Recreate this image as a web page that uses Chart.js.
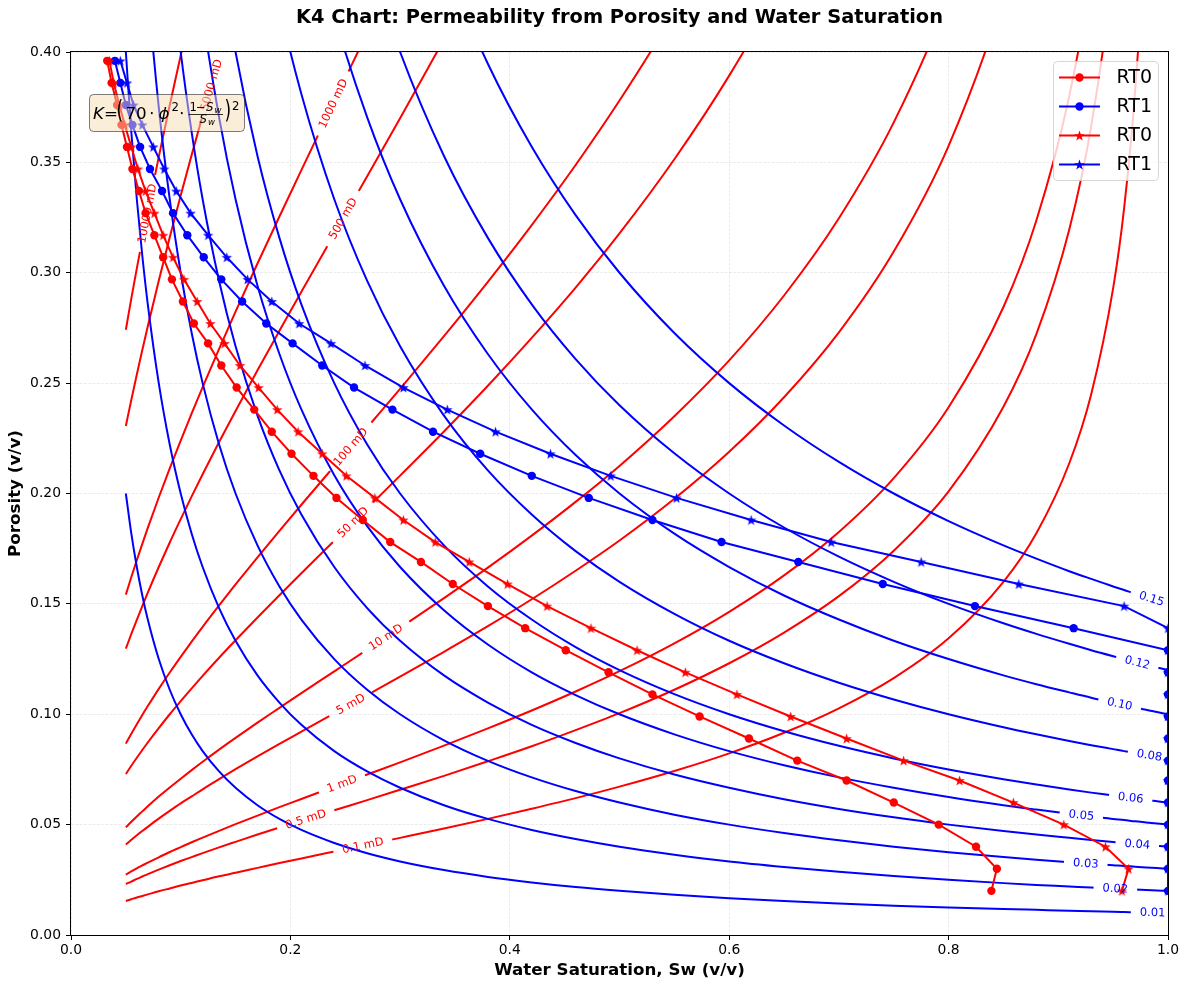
<!DOCTYPE html>
<html>
<head>
<meta charset="utf-8">
<script src="https://cdn.jsdelivr.net/npm/chart.js@4.4.1/dist/chart.umd.min.js"></script>
<style>
  html, body { margin: 0; padding: 0; background: #fff; }
  canvas { display: block; }
</style>
</head>
<body>
<canvas id="k4" width="1189" height="989"></canvas>
<script>
// K4-chart: porositeit tegen waterverzadiging, met BVW-lijnen (blauw)
// en permeabiliteitslijnen (rood), plus vier gemeten reeksen.

const _ = null;

// gemeten punten: porositeit per rij, Sw per reeks
const PHI_PTS = [0.020, 0.030, 0.040, 0.050, 0.060, 0.070, 0.079, 0.089, 0.099, 0.109,
                 0.119, 0.129, 0.139, 0.149, 0.159, 0.169, 0.178, 0.188, 0.198, 0.208,
                 0.218, 0.228, 0.238, 0.248, 0.258, 0.268, 0.277, 0.287, 0.297, 0.307,
                 0.317, 0.327, 0.337, 0.347, 0.357, 0.367, 0.376, 0.386, 0.396];
const SW_RT0_CIRCLE = [0.839, 0.844, 0.825, 0.791, 0.750, 0.707, 0.662, 0.618, 0.573, 0.530,
                       0.490, 0.451, 0.414, 0.380, 0.348, 0.319, 0.291, 0.266, 0.242, 0.221,
                       0.201, 0.183, 0.167, 0.151, 0.137, 0.125, 0.112, 0.102, 0.092, 0.084,
                       0.076, 0.068, 0.062, 0.056, 0.051, 0.046, 0.042, 0.037, 0.033];
const SW_RT1_CIRCLE = [1.000, 1.000, 1.000, 1.000, 1.000, 1.000, 1.000, 1.000, 1.000, 1.000,
                       1.000, 1.000, 0.914, 0.824, 0.740, 0.663, 0.593, 0.530, 0.472, 0.420,
                       0.373, 0.330, 0.293, 0.258, 0.229, 0.202, 0.178, 0.156, 0.137, 0.121,
                       0.106, 0.093, 0.083, 0.072, 0.063, 0.056, 0.050, 0.045, 0.040];
const SW_RT0_STAR = [0.958, 0.964, 0.943, 0.905, 0.859, 0.810, 0.759, 0.707, 0.656, 0.607,
                     0.560, 0.516, 0.474, 0.434, 0.398, 0.363, 0.332, 0.303, 0.277, 0.251,
                     0.229, 0.207, 0.188, 0.171, 0.154, 0.140, 0.127, 0.115, 0.103, 0.093,
                     0.084, 0.076, 0.068, 0.061, 0.055, 0.049, 0.044, 0.039, 0.035];
const SW_RT1_STAR = [1.000, 1.000, 1.000, 1.000, 1.000, 1.000, 1.000, 1.000, 1.000, 1.000,
                     1.000, 1.000, 1.000, 0.960, 0.864, 0.775, 0.693, 0.620, 0.552, 0.492,
                     0.437, 0.387, 0.343, 0.303, 0.268, 0.237, 0.208, 0.183, 0.161, 0.142,
                     0.125, 0.109, 0.096, 0.085, 0.075, 0.065, 0.057, 0.051, 0.045];

// contourlijnen: porositeit op een vaste Sw-reeks
const SW_GRID = [0.05, 0.055, 0.06, 0.065, 0.07, 0.08, 0.09, 0.10, 0.11, 0.12,
                 0.135, 0.15, 0.17, 0.19, 0.21, 0.24, 0.27, 0.30, 0.34, 0.38,
                 0.42, 0.46, 0.50, 0.55, 0.60, 0.65, 0.70, 0.75, 0.80, 0.85,
                 0.88, 0.91, 0.93, 0.95, 0.96, 0.97, 0.98, 0.99, 1.00];

const BVW_01 = [0.2000, 0.1818, 0.1667, 0.1538, 0.1429, 0.1250, 0.1111, 0.1000, 0.0909, 0.0833,
                0.0741, 0.0667, 0.0588, 0.0526, 0.0476, 0.0417, 0.0370, 0.0333, 0.0294, 0.0263,
                0.0238, 0.0217, 0.0200, 0.0182, 0.0167, 0.0154, 0.0143, 0.0133, 0.0125, 0.0118,
                0.0114, 0.0110, 0.0108, 0.0105, 0.0104, 0.0103, 0.0102, 0.0101, 0.0100];
const BVW_02 = [0.4000, 0.3636, 0.3333, 0.3077, 0.2857, 0.2500, 0.2222, 0.2000, 0.1818, 0.1667,
                0.1481, 0.1333, 0.1176, 0.1053, 0.0952, 0.0833, 0.0741, 0.0667, 0.0588, 0.0526,
                0.0476, 0.0435, 0.0400, 0.0364, 0.0333, 0.0308, 0.0286, 0.0267, 0.0250, 0.0235,
                0.0227, 0.0220, 0.0215, 0.0211, 0.0208, 0.0206, 0.0204, 0.0202, 0.0200];
const BVW_03 = [_, _, 0.5000, 0.4615, 0.4286, 0.3750, 0.3333, 0.3000, 0.2727, 0.2500,
                0.2222, 0.2000, 0.1765, 0.1579, 0.1429, 0.1250, 0.1111, 0.1000, 0.0882, 0.0789,
                0.0714, 0.0652, 0.0600, 0.0545, 0.0500, 0.0462, 0.0429, 0.0400, 0.0375, 0.0353,
                0.0341, 0.0330, 0.0323, 0.0316, 0.0313, 0.0309, 0.0306, 0.0303, 0.0300];
const BVW_04 = [_, _, _, _, 0.5714, 0.5000, 0.4444, 0.4000, 0.3636, 0.3333,
                0.2963, 0.2667, 0.2353, 0.2105, 0.1905, 0.1667, 0.1481, 0.1333, 0.1176, 0.1053,
                0.0952, 0.0870, 0.0800, 0.0727, 0.0667, 0.0615, 0.0571, 0.0533, 0.0500, 0.0471,
                0.0455, 0.0440, 0.0430, 0.0421, 0.0417, 0.0412, 0.0408, 0.0404, 0.0400];
const BVW_05 = [_, _, _, _, _, _, _, 0.5000, 0.4545, 0.4167,
                0.3704, 0.3333, 0.2941, 0.2632, 0.2381, 0.2083, 0.1852, 0.1667, 0.1471, 0.1316,
                0.1190, 0.1087, 0.1000, 0.0909, 0.0833, 0.0769, 0.0714, 0.0667, 0.0625, 0.0588,
                0.0568, 0.0549, 0.0538, 0.0526, 0.0521, 0.0515, 0.0510, 0.0505, 0.0500];
const BVW_06 = [_, _, _, _, _, _, _, _, 0.5455, 0.5000,
                0.4444, 0.4000, 0.3529, 0.3158, 0.2857, 0.2500, 0.2222, 0.2000, 0.1765, 0.1579,
                0.1429, 0.1304, 0.1200, 0.1091, 0.1000, 0.0923, 0.0857, 0.0800, 0.0750, 0.0706,
                0.0682, 0.0659, 0.0645, 0.0632, 0.0625, 0.0619, 0.0612, 0.0606, 0.0600];
const BVW_08 = [_, _, _, _, _, _, _, _, _, _,
                _, 0.5333, 0.4706, 0.4211, 0.3810, 0.3333, 0.2963, 0.2667, 0.2353, 0.2105,
                0.1905, 0.1739, 0.1600, 0.1455, 0.1333, 0.1231, 0.1143, 0.1067, 0.1000, 0.0941,
                0.0909, 0.0879, 0.0860, 0.0842, 0.0833, 0.0825, 0.0816, 0.0808, 0.0800];
const BVW_10 = [_, _, _, _, _, _, _, _, _, _,
                _, _, _, 0.5263, 0.4762, 0.4167, 0.3704, 0.3333, 0.2941, 0.2632,
                0.2381, 0.2174, 0.2000, 0.1818, 0.1667, 0.1538, 0.1429, 0.1333, 0.1250, 0.1176,
                0.1136, 0.1099, 0.1075, 0.1053, 0.1042, 0.1031, 0.1020, 0.1010, 0.1000];
const BVW_12 = [_, _, _, _, _, _, _, _, _, _,
                _, _, _, _, 0.5714, 0.5000, 0.4444, 0.4000, 0.3529, 0.3158,
                0.2857, 0.2609, 0.2400, 0.2182, 0.2000, 0.1846, 0.1714, 0.1600, 0.1500, 0.1412,
                0.1364, 0.1319, 0.1290, 0.1263, 0.1250, 0.1237, 0.1224, 0.1212, 0.1200];
const BVW_15 = [_, _, _, _, _, _, _, _, _, _,
                _, _, _, _, _, _, 0.5556, 0.5000, 0.4412, 0.3947,
                0.3571, 0.3261, 0.3000, 0.2727, 0.2500, 0.2308, 0.2143, 0.2000, 0.1875, 0.1765,
                0.1705, 0.1648, 0.1613, 0.1579, 0.1563, 0.1546, 0.1531, 0.1515, 0.1500];

const K_0_1 = [0.0154, 0.0162, 0.0170, 0.0177, 0.0184, 0.0198, 0.0211, 0.0224, 0.0236, 0.0248,
               0.0266, 0.0282, 0.0304, 0.0326, 0.0347, 0.0378, 0.0409, 0.0440, 0.0482, 0.0526,
               0.0572, 0.0620, 0.0672, 0.0743, 0.0823, 0.0916, 0.1027, 0.1164, 0.1344, 0.1600,
               0.1820, 0.2137, 0.2450, 0.2930, 0.3293, 0.3822, 0.4705, 0.6688];
const K_0_5 = [0.0231, 0.0242, 0.0254, 0.0265, 0.0276, 0.0296, 0.0316, 0.0335, 0.0353, 0.0371,
               0.0397, 0.0422, 0.0455, 0.0487, 0.0518, 0.0565, 0.0611, 0.0658, 0.0721, 0.0787,
               0.0855, 0.0928, 0.1005, 0.1111, 0.1231, 0.1370, 0.1535, 0.1741, 0.2010, 0.2393,
               0.2722, 0.3196, 0.3664, 0.4381, 0.4924];
const K_1 = [0.0274, 0.0288, 0.0302, 0.0315, 0.0328, 0.0352, 0.0376, 0.0398, 0.0420, 0.0441,
             0.0472, 0.0502, 0.0541, 0.0579, 0.0616, 0.0672, 0.0727, 0.0782, 0.0858, 0.0936,
             0.1017, 0.1103, 0.1195, 0.1321, 0.1464, 0.1629, 0.1826, 0.2070, 0.2391, 0.2845,
             0.3237, 0.3801, 0.4357, 0.5210];
const K_5 = [0.0410, 0.0431, 0.0452, 0.0471, 0.0490, 0.0527, 0.0562, 0.0596, 0.0628, 0.0660,
             0.0706, 0.0751, 0.0809, 0.0866, 0.0921, 0.1004, 0.1087, 0.1170, 0.1283, 0.1399,
             0.1521, 0.1650, 0.1787, 0.1976, 0.2189, 0.2436, 0.2730, 0.3096, 0.3575, 0.4255,
             0.4840];
const K_10 = [0.0488, 0.0513, 0.0537, 0.0560, 0.0583, 0.0627, 0.0668, 0.0708, 0.0747, 0.0785,
              0.0840, 0.0893, 0.0962, 0.1029, 0.1096, 0.1194, 0.1293, 0.1391, 0.1526, 0.1664,
              0.1809, 0.1962, 0.2125, 0.2350, 0.2603, 0.2897, 0.3247, 0.3681, 0.4251, 0.5060];
const K_50 = [0.0729, 0.0767, 0.0803, 0.0838, 0.0872, 0.0937, 0.1000, 0.1059, 0.1117, 0.1174,
              0.1256, 0.1335, 0.1438, 0.1539, 0.1639, 0.1786, 0.1933, 0.2081, 0.2281, 0.2488,
              0.2705, 0.2933, 0.3178, 0.3514, 0.3893, 0.4331, 0.4855];
const K_100 = [0.0867, 0.0912, 0.0955, 0.0997, 0.1037, 0.1115, 0.1189, 0.1260, 0.1329, 0.1396,
               0.1493, 0.1588, 0.1711, 0.1831, 0.1949, 0.2124, 0.2299, 0.2474, 0.2713, 0.2959,
               0.3216, 0.3488, 0.3780, 0.4179, 0.4629];
const K_500 = [0.1297, 0.1364, 0.1428, 0.1490, 0.1551, 0.1667, 0.1778, 0.1884, 0.1987, 0.2087,
               0.2233, 0.2374, 0.2558, 0.2737, 0.2914, 0.3176, 0.3437, 0.3700, 0.4057, 0.4425];
const K_1000 = [0.1542, 0.1622, 0.1698, 0.1772, 0.1844, 0.1982, 0.2114, 0.2240, 0.2363, 0.2482,
                0.2655, 0.2824, 0.3042, 0.3255, 0.3465, 0.3777, 0.4088, 0.4400];
const K_5000 = [0.2306, 0.2425, 0.2539, 0.2650, 0.2758, 0.2964, 0.3161, 0.3350, 0.3534, 0.3712,
                0.3971, 0.4222, 0.4549];
const K_10000 = [0.2742, 0.2884, 0.3020, 0.3151, 0.3279, 0.3525, 0.3759, 0.3984, 0.4202, 0.4414];

const BVW_LEVELS = ['0.01', '0.02', '0.03', '0.04', '0.05', '0.06', '0.08', '0.10', '0.12', '0.15'];
const BVW_CURVES = [BVW_01, BVW_02, BVW_03, BVW_04, BVW_05, BVW_06, BVW_08, BVW_10, BVW_12, BVW_15];
const K_LEVELS = ['0.1 mD', '0.5 mD', '1 mD', '5 mD', '10 mD', '50 mD', '100 mD', '500 mD',
                  '1000 mD', '5000 mD', '10000 mD'];
const K_CURVES = [K_0_1, K_0_5, K_1, K_5, K_10, K_50, K_100, K_500, K_1000, K_5000, K_10000];

const X_TICKS = [0.0, 0.2, 0.4, 0.6, 0.8, 1.0];
const Y_TICKS = [0.00, 0.05, 0.10, 0.15, 0.20, 0.25, 0.30, 0.35, 0.40];

// waar langs de lijn het label staat (Sw)
const BVW_LABEL_AT = [0.986, 0.952, 0.925, 0.972, 0.921, 0.966, 0.983, 0.956, 0.972, 0.985];
const K_LABEL_AT = [0.266, 0.214, 0.247, 0.255, 0.287, 0.257, 0.255, 0.248, 0.239, 0.128, 0.0696];

const FONT = 'DejaVu Sans';
const RED = '#ff0000';
const BLUE = '#0000ff';
const LABEL_FONT = `11.5px ${FONT}`;

Chart.defaults.font.family = FONT;
Chart.defaults.color = '#000';

function starImage(color, r) {
    const c = document.createElement('canvas');
    const size = Math.ceil(r * 2) + 2;
    c.width = size; c.height = size;
    const g = c.getContext('2d');
    g.translate(size / 2, size / 2 + 0.5);
    g.beginPath();
    for (let i = 0; i < 10; i++) {
        const rr = i % 2 ? r * 0.4 : r;
        const a = -Math.PI / 2 + i * Math.PI / 5;
        g.lineTo(rr * Math.cos(a), rr * Math.sin(a));
    }
    g.closePath();
    g.fillStyle = color;
    g.fill();
    return c;
}

const STAR_RED = starImage(RED, 5.5);
const STAR_BLUE = starImage(BLUE, 5.5);

function series(label, swArr, color, style) {
    return {
        label,
        data: PHI_PTS.map((p, i) => ({ x: swArr[i], y: p })),
        borderColor: color,
        backgroundColor: color,
        borderWidth: 2,
        pointStyle: style,
        pointRadius: 4.2,
        pointBorderWidth: 0,
        pointBackgroundColor: color,
        pointHoverRadius: 4.2,
        tension: 0,
        clip: 0
    };
}

function contour(arr, color, text, at) {
    return {
        label: text,
        data: SW_GRID.map((s, i) => ({ x: s, y: arr[i] === undefined ? null : arr[i] })),
        borderColor: color,
        borderWidth: 2,
        pointRadius: 0,
        pointHoverRadius: 0,
        cubicInterpolationMode: 'monotone',
        spanGaps: false,
        clip: 0,
        labelText: text,
        labelAt: at,
        labelColor: color
    };
}

const LEGEND_ROWS = [
    { text: 'RT0', color: RED, style: 'circle' },
    { text: 'RT1', color: BLUE, style: 'circle' },
    { text: 'RT0', color: RED, style: STAR_RED },
    { text: 'RT1', color: BLUE, style: STAR_BLUE }
];

// bovenste getekend = eerste in de lijst
const datasets = [
    series('RT1', SW_RT1_STAR, BLUE, STAR_BLUE),
    series('RT0', SW_RT0_STAR, RED, STAR_RED),
    series('RT1', SW_RT1_CIRCLE, BLUE, 'circle'),
    series('RT0', SW_RT0_CIRCLE, RED, 'circle')
];
BVW_CURVES.forEach((arr, i) => datasets.push(contour(arr, BLUE, BVW_LEVELS[i], BVW_LABEL_AT[i])));
K_CURVES.forEach((arr, i) => datasets.push(contour(arr, RED, K_LEVELS[i], K_LABEL_AT[i])));

function labelGeom(chart, index) {
    const ds = chart.data.datasets[index];
    if (ds.labelText === undefined) return null;
    const meta = chart.getDatasetMeta(index);
    const ax = chart.scales.x.getPixelForValue(ds.labelAt);
    const pts = meta.data.filter(p => !p.skip && isFinite(p.y));
    for (let j = 0; j < pts.length - 1; j++) {
        const a = pts[j], b = pts[j + 1];
        if (ax >= a.x && ax <= b.x) {
            const t = (ax - a.x) / (b.x - a.x);
            const ctx = chart.ctx;
            ctx.save();
            ctx.font = LABEL_FONT;
            const w = ctx.measureText(ds.labelText).width;
            ctx.restore();
            return { x: ax, y: a.y + t * (b.y - a.y), ang: Math.atan2(b.y - a.y, b.x - a.x), w, ds };
        }
    }
    return null;
}

// inline contourlabels: lijn onderbreken en tekst langs de lijn zetten
const contourLabels = {
    id: 'contourLabels',
    beforeDatasetDraw(chart, args) {
        const g = labelGeom(chart, args.index);
        if (!g) return;
        const ctx = chart.ctx;
        const c = Math.cos(g.ang), s = Math.sin(g.ang);
        const hw = g.w / 2 + 9, hh = 7;
        ctx.save();
        ctx.beginPath();
        ctx.rect(0, 0, chart.width, chart.height);
        [[-hw, -hh], [hw, -hh], [hw, hh], [-hw, hh]].forEach(([u, v], k) => {
            const X = g.x + u * c - v * s, Y = g.y + u * s + v * c;
            if (k) ctx.lineTo(X, Y); else ctx.moveTo(X, Y);
        });
        ctx.closePath();
        ctx.clip('evenodd');
        args.meta._labelClip = true;
    },
    afterDatasetDraw(chart, args) {
        if (args.meta._labelClip) {
            chart.ctx.restore();
            args.meta._labelClip = false;
        }
    },
    afterDatasetsDraw(chart) {
        const ctx = chart.ctx;
        const { left, top, right, bottom } = chart.chartArea;
        // kader
        ctx.save();
        ctx.strokeStyle = '#000';
        ctx.lineWidth = 1;
        ctx.strokeRect(left - 0.5, top - 0.5, right - left + 1, bottom - top + 1);
        ctx.restore();

        chart.data.datasets.forEach((ds, i) => {
            const g = labelGeom(chart, i);
            if (!g) return;
            ctx.save();
            ctx.translate(g.x, g.y);
            ctx.rotate(g.ang);
            ctx.font = LABEL_FONT;
            ctx.fillStyle = ds.labelColor;
            ctx.textAlign = 'center';
            ctx.textBaseline = 'middle';
            ctx.fillText(ds.labelText, 0, 0.5);
            ctx.restore();
        });
    }
};

// hoge, dunne haakjes zoals mathtext
function tallParen(ctx, ch, x, yTop) {
    ctx.save();
    ctx.font = `17px ${FONT}`;
    ctx.translate(x, yTop);
    ctx.scale(1, 1.45);
    ctx.textBaseline = 'top';
    ctx.fillText(ch, 0, 0);
    ctx.restore();
}

function drawFormula(ctx) {
    ctx.save();
    ctx.beginPath();
    ctx.roundRect(89.5, 94.5, 155, 37, 4);
    ctx.fillStyle = 'rgba(245,222,179,0.5)';
    ctx.fill();
    ctx.strokeStyle = 'rgba(0,0,0,0.5)';
    ctx.lineWidth = 1;
    ctx.stroke();

    ctx.fillStyle = '#000';
    ctx.textAlign = 'left';
    ctx.textBaseline = 'alphabetic';
    const base = 118.5;
    ctx.font = `italic 16.7px ${FONT}`;
    ctx.fillText('K', 93, base);
    ctx.font = `16.7px ${FONT}`;
    ctx.fillText('=', 104, base);
    tallParen(ctx, '(', 116.5, 99.5);
    ctx.font = `16.7px ${FONT}`;
    ctx.fillText('70', 125.5, base);
    ctx.fillText('\u22c5', 149, base);
    ctx.font = `italic 16.7px ${FONT}`;
    ctx.fillText('\u03d5', 158.5, base);
    ctx.font = `11.7px ${FONT}`;
    ctx.fillText('2', 171.5, 110.5);
    ctx.font = `16.7px ${FONT}`;
    ctx.fillText('\u22c5', 179, base);
    // breuk
    ctx.font = `11.7px ${FONT}`;
    ctx.fillText('1', 189.5, 110.5);
    ctx.fillText('\u2212', 196, 110.5);
    ctx.font = `italic 11.7px ${FONT}`;
    ctx.fillText('S', 206, 110.5);
    ctx.fillText('S', 199.5, 123);
    ctx.font = `italic 8.5px ${FONT}`;
    ctx.fillText('w', 214.5, 112.5);
    ctx.fillText('w', 208, 125);
    ctx.beginPath();
    ctx.moveTo(188.5, 114.5);
    ctx.lineTo(223, 114.5);
    ctx.lineWidth = 0.8;
    ctx.strokeStyle = '#000';
    ctx.stroke();
    tallParen(ctx, ')', 224.5, 99.5);
    ctx.font = `11.7px ${FONT}`;
    ctx.fillText('2', 232, 109.5);
    ctx.restore();
}

function drawLegend(ctx) {
    ctx.save();
    ctx.beginPath();
    ctx.roundRect(1053.5, 61.5, 105, 119, 4);
    ctx.fillStyle = 'rgba(255,255,255,0.8)';
    ctx.fill();
    ctx.strokeStyle = 'rgba(204,204,204,0.8)';
    ctx.lineWidth = 1;
    ctx.stroke();
    LEGEND_ROWS.forEach((row, i) => {
        const y = 77.5 + i * 29;
        ctx.beginPath();
        ctx.moveTo(1059, y);
        ctx.lineTo(1100, y);
        ctx.strokeStyle = row.color;
        ctx.lineWidth = 2;
        ctx.stroke();
        if (row.style === 'circle') {
            ctx.beginPath();
            ctx.arc(1079.5, y, 4.2, 0, Math.PI * 2);
            ctx.fillStyle = row.color;
            ctx.fill();
        } else {
            ctx.drawImage(row.style, 1079.5 - row.style.width / 2, y - row.style.height / 2);
        }
        ctx.fillStyle = '#000';
        ctx.font = `19px ${FONT}`;
        ctx.textAlign = 'left';
        ctx.textBaseline = 'middle';
        ctx.fillText(row.text, 1116.5, y + 1);
    });
    ctx.restore();
}

const overlays = {
    id: 'overlays',
    afterDraw(chart) {
        const ctx = chart.ctx;
        const { left, right } = chart.chartArea;
        ctx.save();
        ctx.font = `bold 19.4px ${FONT}`;
        ctx.fillStyle = '#000';
        ctx.textAlign = 'center';
        ctx.textBaseline = 'middle';
        ctx.fillText('K4 Chart: Permeability from Porosity and Water Saturation', (left + right) / 2, 18);
        ctx.restore();
        drawFormula(ctx);
        drawLegend(ctx);
    }
};

const gridOpts = {
    color: 'rgba(176,176,176,0.3)',
    lineWidth: 0.8,
    drawTicks: true,
    tickLength: 5,
    tickColor: '#000',
    tickWidth: 1,
    tickBorderDash: []
};

new Chart(document.getElementById('k4'), {
    type: 'line',
    data: { datasets },
    options: {
        responsive: false,
        devicePixelRatio: 1,
        animation: false,
        events: [],
        layout: { padding: { top: 52, right: 21, left: 0, bottom: 0 } },
        plugins: {
            legend: { display: false },
            tooltip: { enabled: false },
            title: { display: false }
        },
        scales: {
            x: {
                type: 'linear',
                min: 0, max: 1,
                afterFit: s => { s.height = 54; },
                afterBuildTicks: s => { s.ticks = X_TICKS.map(v => ({ value: v })); },
                ticks: {
                    font: { size: 13.9 },
                    padding: 2,
                    maxRotation: 0,
                    callback: v => v.toFixed(1)
                },
                grid: gridOpts,
                border: { display: false, dash: [3, 1.3] },
                title: {
                    display: true,
                    text: 'Water Saturation, Sw (v/v)',
                    font: { size: 16.7, weight: 'bold' },
                    padding: { top: 0, bottom: 8 }
                }
            },
            y: {
                type: 'linear',
                min: 0, max: 0.4,
                afterFit: s => { s.width = 71; },
                afterBuildTicks: s => { s.ticks = Y_TICKS.map(v => ({ value: v })); },
                ticks: {
                    font: { size: 13.9 },
                    padding: 5,
                    callback: v => v.toFixed(2)
                },
                grid: gridOpts,
                border: { display: false, dash: [3, 1.3] },
                title: {
                    display: true,
                    text: 'Porosity (v/v)',
                    font: { size: 16.7, weight: 'bold' },
                    padding: { top: 6, bottom: 0 }
                }
            }
        }
    },
    plugins: [contourLabels, overlays]
});
</script>
</body>
</html>
